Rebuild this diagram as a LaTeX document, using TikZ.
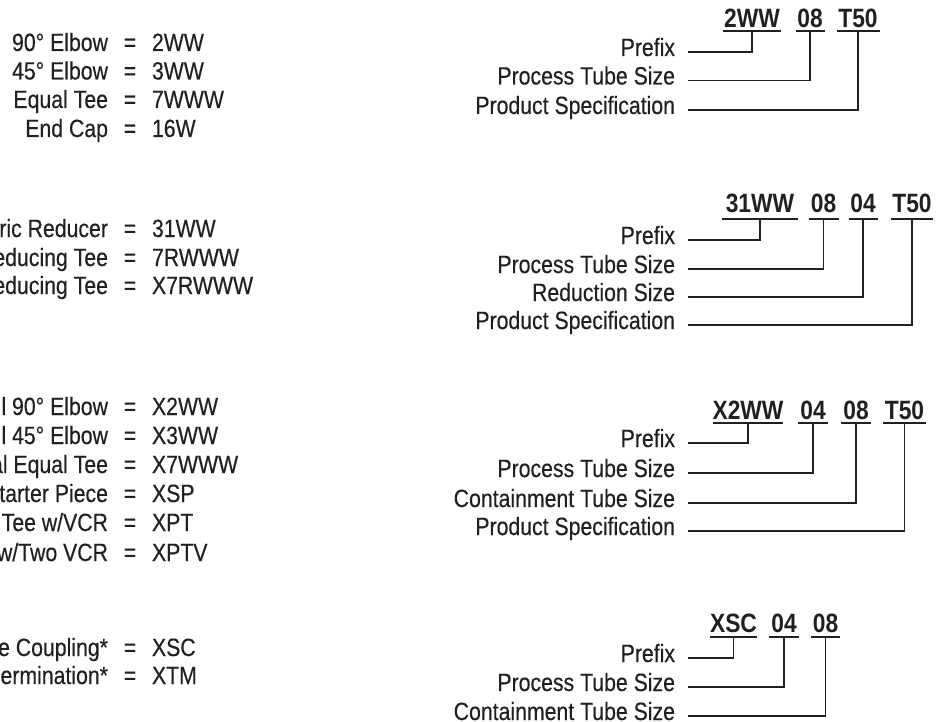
\documentclass[tikz,border=0pt]{standalone}
\usepackage{fontspec}
\setmainfont{Liberation Sans}[FakeStretch=0.85,FakeBold=0.35]
\newfontfamily\codefont{Liberation Sans}[FakeStretch=0.86]
\definecolor{ink}{RGB}{35,31,32}
\begin{document}
\begin{tikzpicture}[x=1pt,y=-1pt,
  every node/.style={inner sep=0pt,outer sep=0pt,text=ink},
  txt/.style={font=\fontsize{25}{29}\selectfont},
  lbl/.style={txt,anchor=base east},
  eqs/.style={txt,anchor=base},
  cval/.style={txt,anchor=base west},
  code/.style={font=\codefont\bfseries\fontsize{26.5}{30}\selectfont,anchor=base},
  uline/.style={draw=ink,line width=1.8pt},
  conn/.style={draw=ink,line width=1.8pt}]
\useasboundingbox (0,0) rectangle (936,722);
% ---- left column
\foreach \yy/\lab/\cd [count=\i] in {
  51/{90° Elbow}/2WW, 79.5/{45° Elbow}/3WW, 108/{Equal Tee}/7WWW, 137/{End Cap}/16W,
  237/{ric Reducer}/31WW, 266/{educing Tee}/7RWWW, 294/{educing Tee}/X7RWWW,
  415/{l 90° Elbow}/X2WW, 444/{l 45° Elbow}/X3WW, 473/{al Equal Tee}/X7WWW,
  502/{tarter Piece}/XSP, 531/{Tee w/VCR}/XPT, 561/{w/Two VCR}/XPTV,
  656/{e Coupling*}/XSC, 684/{ermination*}/XTM}{
  \node[lbl] (L\i) at (108,\yy) {\lab};
  \node[eqs] (E\i) at (130,\yy) {=};
  \node[cval] (C\i) at (152,\yy) {\cd};
}
% Block 1
\node[code,minimum width=58pt] (a1) at (752,27.5) {2WW};
\node[code,minimum width=29pt] (a2) at (810,27.5) {08};
\node[code,minimum width=43pt] (a3) at (858,27.5) {T50};
\foreach \n in {a1,a2,a3}{\draw[uline] ([yshift=-3.5pt]\n.south west) -- ([yshift=-3.5pt]\n.south east);}
\node[lbl] (pa1) at (675,56) {Prefix};
\node[lbl] (pa2) at (675,84.5) {Process Tube Size};
\node[lbl] (pa3) at (675,114) {Product Specification};
\draw[conn] ([xshift=13pt,yshift=4pt]pa1.base east) -| ([yshift=-3.5pt]a1.south);
\draw[conn] ([xshift=13pt,yshift=4pt]pa2.base east) -| ([yshift=-3.5pt]a2.south);
\draw[conn] ([xshift=13pt,yshift=4pt]pa3.base east) -| ([yshift=-3.5pt]a3.south);
% Block 2
\node[code,minimum width=76pt] (b1) at (760,212) {31WW};
\node[code,minimum width=30pt] (b2) at (823.5,212) {08};
\node[code,minimum width=29pt] (b3) at (863,212) {04};
\node[code,minimum width=42pt] (b4) at (912,212) {T50};
\foreach \n in {b1,b2,b3,b4}{\draw[uline] ([yshift=-6.5pt]\n.south west) -- ([yshift=-6.5pt]\n.south east);}
\node[lbl] (pb1) at (675,244) {Prefix};
\node[lbl] (pb2) at (675,273) {Process Tube Size};
\node[lbl] (pb3) at (675,301) {Reduction Size};
\node[lbl] (pb4) at (675,329) {Product Specification};
\draw[conn] ([xshift=13pt,yshift=4pt]pb1.base east) -| ([yshift=-6.5pt]b1.south);
\draw[conn] ([xshift=13pt,yshift=4pt]pb2.base east) -| ([yshift=-6.5pt]b2.south);
\draw[conn] ([xshift=13pt,yshift=4pt]pb3.base east) -| ([yshift=-6.5pt]b3.south);
\draw[conn] ([xshift=13pt,yshift=4pt]pb4.base east) -| ([yshift=-6.5pt]b4.south);
% Block 3
\node[code,minimum width=70pt] (d1) at (748,419) {X2WW};
\node[code,minimum width=30pt] (d2) at (813,419) {04};
\node[code,minimum width=30pt] (d3) at (856,419) {08};
\node[code,minimum width=43pt] (d4) at (904.5,419) {T50};
\foreach \n in {d1,d2,d3,d4}{\draw[uline] ([yshift=-4pt]\n.south west) -- ([yshift=-4pt]\n.south east);}
\node[lbl] (pd1) at (675,447) {Prefix};
\node[lbl] (pd2) at (675,477) {Process Tube Size};
\node[lbl] (pd3) at (675,507) {Containment Tube Size};
\node[lbl] (pd4) at (675,535) {Product Specification};
\draw[conn] ([xshift=13pt,yshift=4pt]pd1.base east) -| ([yshift=-4pt]d1.south);
\draw[conn] ([xshift=13pt,yshift=4pt]pd2.base east) -| ([yshift=-4pt]d2.south);
\draw[conn] ([xshift=13pt,yshift=4pt]pd3.base east) -| ([yshift=-4pt]d3.south);
\draw[conn] ([xshift=13pt,yshift=4pt]pd4.base east) -| ([yshift=-4pt]d4.south);
% Block 4
\node[code,minimum width=43pt] (f1) at (733.5,632) {XSC};
\node[code,minimum width=30pt] (f2) at (784,632) {04};
\node[code,minimum width=29pt] (f3) at (825.5,632) {08};
\foreach \n in {f1,f2,f3}{\draw[uline] ([yshift=-5pt]\n.south west) -- ([yshift=-5pt]\n.south east);}
\node[lbl] (pf1) at (675,662) {Prefix};
\node[lbl] (pf2) at (675,691) {Process Tube Size};
\node[lbl] (pf3) at (675,720) {Containment Tube Size};
\draw[conn] ([xshift=13pt,yshift=4pt]pf1.base east) -| ([yshift=-5pt]f1.south);
\draw[conn] ([xshift=13pt,yshift=4pt]pf2.base east) -| ([yshift=-5pt]f2.south);
\draw[conn] ([xshift=13pt,yshift=4pt]pf3.base east) -| ([yshift=-5pt]f3.south);
\end{tikzpicture}
\end{document}
